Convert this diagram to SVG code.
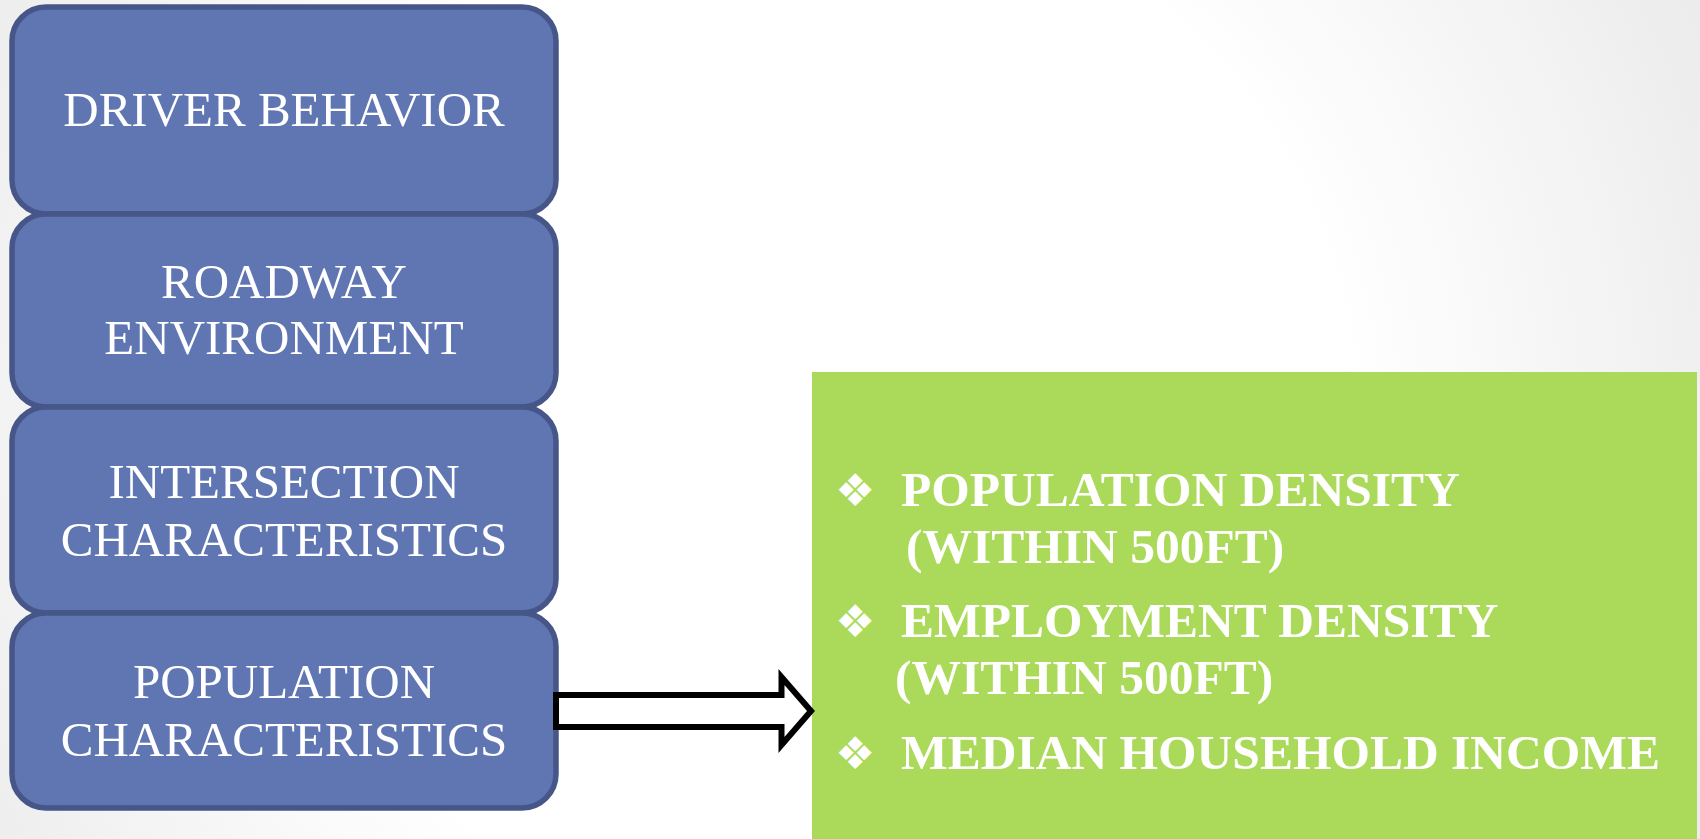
<svg xmlns="http://www.w3.org/2000/svg" width="1700" height="839" viewBox="0 0 1700 839">
<defs>
<radialGradient id="bg" gradientUnits="userSpaceOnUse" cx="820" cy="420" r="960">
<stop offset="0" stop-color="#ffffff"/>
<stop offset="0.55" stop-color="#ffffff"/>
<stop offset="1" stop-color="#ececec"/>
</radialGradient>
<style>
.box{fill:#6076b3;stroke:#465688;stroke-width:5.5}
.bt{font-family:"Liberation Serif","Times New Roman",serif;font-size:49px;fill:#ffffff;text-anchor:middle}
.gt{font-family:"Liberation Serif","Times New Roman",serif;font-size:49.5px;font-weight:bold;fill:#ffffff}
.bul{font-family:"DejaVu Sans",sans-serif;font-size:45px;fill:#ffffff}
</style>
</defs>
<rect x="0" y="0" width="1700" height="839" fill="url(#bg)"/>
<g id="driver-behavior">
<rect class="box" x="12" y="7" width="544" height="207" rx="34" ry="34"/>
<text class="bt" x="284" y="126">DRIVER BEHAVIOR</text>
</g>
<g id="roadway-environment">
<rect class="box" x="12" y="214" width="544" height="193" rx="34" ry="34"/>
<text class="bt" x="284" y="298">ROADWAY</text>
<text class="bt" x="284" y="354">ENVIRONMENT</text>
</g>
<g id="intersection-characteristics">
<rect class="box" x="12" y="407" width="544" height="206" rx="34" ry="34"/>
<text class="bt" x="284" y="498">INTERSECTION</text>
<text class="bt" x="284" y="556">CHARACTERISTICS</text>
</g>
<g id="population-characteristics">
<rect class="box" x="12" y="613" width="544" height="195" rx="34" ry="34"/>
<text class="bt" x="284" y="698">POPULATION</text>
<text class="bt" x="284" y="756">CHARACTERISTICS</text>
</g>
<g id="population-factors">
<rect x="812" y="372" width="885" height="467" fill="#abda5a"/>
<text class="bul" x="835" y="506">❖</text>
<text class="gt" x="901" y="506">POPULATION DENSITY</text>
<text class="gt" x="906" y="563">(WITHIN 500FT)</text>
<text class="bul" x="835" y="637">❖</text>
<text class="gt" x="901" y="637">EMPLOYMENT DENSITY</text>
<text class="gt" x="895" y="694">(WITHIN 500FT)</text>
<text class="bul" x="835" y="769">❖</text>
<text class="gt" x="901" y="769">MEDIAN HOUSEHOLD INCOME</text>
</g>
<g id="connectors">
<polygon points="556,695 781.5,695 781.5,677 811,711 781.5,745 781.5,727 556,727" fill="#ffffff" stroke="#000000" stroke-width="6" stroke-linejoin="miter"/>
</g>
</svg>
